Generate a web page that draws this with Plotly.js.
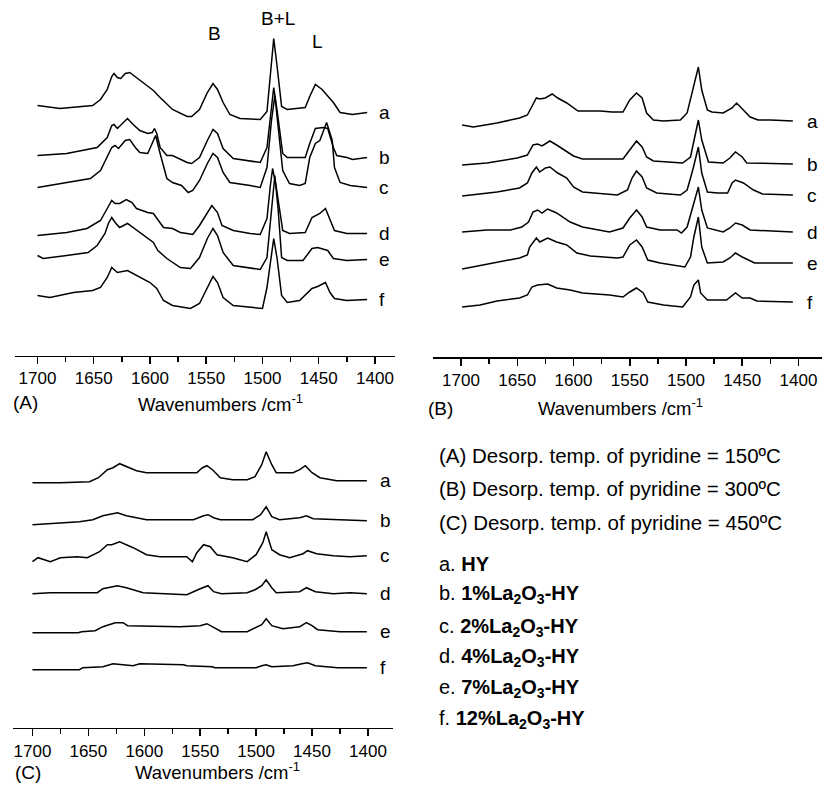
<!DOCTYPE html>
<html><head><meta charset="utf-8">
<script src="https://cdn.plot.ly/plotly-3.0.1.min.js"></script>
<style>html,body{margin:0;padding:0;background:#fff}</style>
</head><body><div id="chart" style="width:822px;height:785px"></div>
<script>
// ---------- categories / labels ----------
const sampleLetters = ['a','b','c','d','e','f'];
const sampleNames = ['HY','1%La<sub>2</sub>O<sub>3</sub>-HY','2%La<sub>2</sub>O<sub>3</sub>-HY','4%La<sub>2</sub>O<sub>3</sub>-HY','7%La<sub>2</sub>O<sub>3</sub>-HY','12%La<sub>2</sub>O<sub>3</sub>-HY'];
const panelIds = ['A','B','C'];
const desorpTemps = [150, 300, 450];
const peakLabels = ['B','B+L','L'];
const peakWavenumbers = [1543, 1486, 1451];
const peakHeights = [322, 337, 314];
const tickValues = [1700,1650,1600,1550,1500,1450,1400];

// ---------- Panel A (150 °C), offset spectra, a.u. ----------
const Aa_wn = [1700,1680,1651,1644,1638,1634,1632,1629,1626,1622,1618,1612,1602,1597,1591,1580,1567,1563,1556,1549,1544,1540,1535,1529,1520,1502,1496,1492,1490,1487,1483,1478,1462,1458,1453,1447,1442,1437,1431,1420,1407];
const Aa = [250,247,250,256,266,279,282,278,277,282,283,278,269,265,258,246,239,239,246,263,272,266,253,241,237,236,244,289,317,289,249,246,248,259,271,266,259,253,243,241,243];
const Ab_wn = [1700,1674,1647,1638,1634,1632,1629,1624,1620,1615,1609,1602,1598,1596,1594,1591,1585,1580,1567,1563,1556,1549,1544,1540,1535,1526,1502,1496,1492,1490,1487,1482,1478,1462,1458,1453,1446,1442,1437,1434,1425,1420,1407];
const Ab = [200,202,208,218,230,231,227,233,237,231,225,222,223,227,222,208,200,200,193,192,198,215,226,222,207,197,193,208,248,268,245,202,198,198,212,227,228,227,208,200,198,196,198];
const Ac_wn = [1700,1674,1653,1644,1638,1634,1631,1628,1622,1618,1613,1609,1602,1598,1595,1591,1585,1580,1572,1566,1562,1556,1549,1544,1540,1535,1529,1511,1502,1496,1492,1489,1486,1482,1476,1467,1462,1458,1453,1449,1443,1438,1436,1431,1422,1407];
const Ac = [168,173,177,185,198,208,210,207,215,216,208,203,202,212,220,202,177,173,170,163,165,175,192,202,198,183,173,170,168,188,235,260,230,185,172,170,172,198,212,215,233,215,188,173,170,168];
const Ad_wn = [1700,1674,1656,1644,1638,1634,1631,1627,1621,1616,1612,1602,1597,1594,1588,1580,1573,1567,1562,1556,1549,1545,1540,1536,1526,1511,1502,1496,1493,1491,1488,1482,1476,1462,1456,1449,1444,1440,1436,1425,1407];
const Ad = [120,123,127,135,147,155,152,152,156,153,147,143,142,137,128,127,123,122,121,130,143,150,143,130,125,122,121,137,170,187,170,125,122,123,138,142,147,135,125,122,122];
const Ae_wn = [1700,1695,1674,1655,1647,1640,1637,1634,1631,1627,1620,1615,1606,1597,1593,1585,1573,1564,1556,1549,1544,1540,1535,1526,1502,1496,1492,1489,1486,1483,1478,1464,1456,1451,1442,1437,1425,1407];
const Ae = [100,97,100,103,110,122,132,138,133,128,132,128,120,113,105,97,88,87,98,117,127,120,103,90,86,98,145,180,145,98,95,95,107,108,105,97,95,96];
const Af_wn = [1700,1689,1668,1651,1644,1638,1634,1629,1620,1609,1600,1594,1588,1580,1564,1556,1549,1544,1540,1535,1526,1500,1496,1492,1490,1487,1483,1478,1467,1456,1451,1444,1440,1436,1425,1407];
const Af = [60,58,63,65,68,78,88,83,85,78,73,67,55,50,47,52,68,79,73,58,50,47,68,102,117,97,60,53,55,67,69,73,63,57,55,56];

// ---------- Panel B (300 °C) ----------
const Ba_wn = [1699,1689,1668,1648,1641,1637,1633,1630,1625,1619,1614,1606,1600,1596,1576,1566,1556,1550,1544,1539,1535,1529,1520,1505,1499,1494,1489,1486,1481,1477,1467,1459,1455,1449,1443,1436,1425,1405];
const Ba = [232,230,234,239,242,250,259,258,259,263,259,254,249,246,246,245,245,257,264,259,244,237,236,237,244,267,290,267,247,245,244,249,254,247,240,237,237,236];
const Bb_wn = [1699,1677,1650,1641,1636,1632,1628,1621,1615,1600,1592,1556,1550,1544,1539,1535,1529,1503,1496,1492,1489,1486,1480,1467,1461,1456,1450,1446,1405];
const Bb = [192,194,199,202,212,213,211,216,212,201,198,198,207,216,210,200,196,194,200,220,237,217,195,194,199,205,200,194,193];
const Bc_wn = [1699,1668,1648,1641,1637,1633,1630,1625,1621,1614,1606,1600,1592,1561,1552,1548,1544,1539,1535,1526,1505,1499,1494,1489,1486,1481,1472,1463,1459,1456,1449,1440,1432,1405];
const Bc = [161,165,169,174,184,190,185,189,190,184,179,170,165,162,167,179,186,180,169,164,162,167,187,210,184,165,164,164,174,177,174,167,163,162];
const Bd_wn = [1699,1677,1656,1646,1640,1636,1632,1628,1623,1615,1603,1592,1568,1556,1550,1544,1539,1535,1523,1508,1504,1499,1494,1489,1486,1481,1467,1461,1456,1450,1443,1405];
const Bd = [125,127,127,130,135,145,147,144,148,144,135,130,125,129,139,147,140,130,127,127,124,130,150,170,147,129,125,129,134,132,127,125];
const Be_wn = [1699,1668,1648,1641,1639,1633,1630,1623,1615,1606,1597,1585,1561,1556,1550,1544,1539,1534,1523,1501,1496,1493,1489,1486,1481,1467,1461,1456,1450,1439,1405];
const Be = [88,95,99,102,110,119,115,119,115,112,104,101,99,100,112,117,110,97,94,90,100,120,140,110,94,95,99,104,100,94,94];
const Bf_wn = [1699,1683,1668,1648,1641,1637,1632,1623,1615,1603,1592,1568,1556,1550,1544,1538,1534,1520,1503,1496,1493,1489,1487,1481,1464,1459,1456,1450,1443,1437,1405];
const Bf = [50,52,56,59,62,70,72,73,69,67,64,62,60,65,69,64,55,52,50,60,72,77,64,57,57,62,64,59,59,56,55];

// ---------- Panel C (450 °C) ----------
const Ca_wn = [1700,1675,1649,1641,1633,1628,1622,1616,1607,1598,1580,1568,1553,1548,1544,1539,1532,1521,1508,1501,1495,1491,1486,1482,1467,1461,1456,1450,1443,1428,1401];
const Ca = [245,245,246,250,258,260,264,261,257,255,255,255,255,260,262,258,250,248,248,251,263,276,263,255,255,258,262,255,250,247,247];
const Cb_wn = [1700,1684,1669,1658,1646,1637,1624,1616,1598,1556,1547,1543,1538,1532,1503,1496,1491,1486,1479,1461,1455,1449,1401];
const Cb = [203,204,205,206,208,212,215,212,208,208,212,213,210,208,208,213,221,211,208,210,212,209,207];
const Cc_wn = [1700,1695,1684,1675,1660,1651,1640,1633,1629,1622,1610,1598,1586,1562,1557,1553,1547,1541,1535,1521,1508,1500,1494,1491,1486,1479,1470,1458,1454,1446,1431,1416,1401];
const Cc = [166,170,166,170,171,170,176,183,183,186,180,173,171,171,166,175,183,181,173,170,166,173,185,196,178,173,170,174,177,174,172,171,172];
const Cd_wn = [1700,1684,1642,1637,1624,1616,1601,1562,1550,1543,1538,1531,1508,1501,1495,1491,1486,1482,1461,1455,1447,1431,1416,1401];
const Cd = [134,135,135,139,142,140,135,133,139,142,136,134,135,138,142,148,140,135,136,140,136,134,135,134];
const Ce_wn = [1700,1659,1656,1644,1637,1626,1619,1615,1568,1550,1544,1539,1531,1508,1500,1495,1491,1486,1476,1467,1461,1455,1450,1445,1425,1401];
const Ce = [95,95,96,97,101,105,105,102,101,102,104,101,96,96,100,103,109,102,99,100,101,105,102,98,96,96];
const Cf_wn = [1700,1658,1655,1637,1628,1615,1610,1604,1565,1562,1539,1537,1500,1495,1491,1486,1467,1459,1454,1447,1427,1401];
const Cf = [58,58,60,61,64,63,62,64,63,62,61,60,60,62,63,61,62,64,65,62,60,60];

// ---------- build ----------
const FONT = 'Liberation Sans, Arial, Helvetica, sans-serif';
const W = 822, H = 785;
const panels = [
  {wn:[Aa_wn,Ab_wn,Ac_wn,Ad_wn,Ae_wn,Af_wn], val:[Aa,Ab,Ac,Ad,Ae,Af], xa:'x', ya:'y', labelX:1398},
  {wn:[Ba_wn,Bb_wn,Bc_wn,Bd_wn,Be_wn,Bf_wn], val:[Ba,Bb,Bc,Bd,Be,Bf], xa:'x2', ya:'y2', labelX:1394},
  {wn:[Ca_wn,Cb_wn,Cc_wn,Cd_wn,Ce_wn,Cf_wn], val:[Ca,Cb,Cc,Cd,Ce,Cf], xa:'x3', ya:'y3', labelX:1391}
];
const traces = [];
const annotations = [];
panels.forEach(p => {
  for (let i = 0; i < sampleLetters.length; i++) {
    traces.push({x:p.wn[i], y:p.val[i], xaxis:p.xa, yaxis:p.ya, type:'scatter', mode:'lines',
      line:{color:'#000', width:1.5}, hoverinfo:'skip', showlegend:false, name:sampleLetters[i]});
    const last = p.val[i][p.val[i].length-1];
    annotations.push({x:p.labelX, y:last, xref:p.xa, yref:p.ya, text:sampleLetters[i], showarrow:false,
      xanchor:'left', yanchor:'middle', font:{family:FONT, size:19, color:'#000'}});
  }
});
peakLabels.forEach((t,i) => annotations.push({x:peakWavenumbers[i], y:peakHeights[i], xref:'x', yref:'y', text:t,
  showarrow:false, xanchor:'center', yanchor:'middle', font:{family:FONT, size:19, color:'#000'}}));

function px(x){return x/W;} function py(y){return 1-y/H;}
// axis titles + panel ids
const panelTitlePos = [[25,402,220,403],[441,408,620,407],[28,772,217,771]];
panelIds.forEach((id,i) => {
  const pp = panelTitlePos[i];
  annotations.push({x:px(pp[0]), y:py(pp[1]), xref:'paper', yref:'paper', text:'('+id+')', showarrow:false,
    xanchor:'center', yanchor:'middle', font:{family:FONT, size:19, color:'#000'}});
  annotations.push({x:px(pp[2]), y:py(pp[3]), xref:'paper', yref:'paper', text:'Wavenumbers /cm<sup>-1</sup>', showarrow:false,
    xanchor:'center', yanchor:'middle', font:{family:FONT, size:18.5, color:'#000'}});
});
// right-hand text block
const infoY = [455,488,522];
panelIds.forEach((id,i) => annotations.push({x:px(437), y:py(infoY[i]), xref:'paper', yref:'paper',
  text:'('+id+') Desorp. temp. of pyridine = '+desorpTemps[i]+'ºC', showarrow:false, xanchor:'left', yanchor:'middle',
  font:{family:FONT, size:20.5, color:'#000'}}));
const sampY = [564,594,627,657,688,719];
sampleLetters.forEach((l,i) => annotations.push({x:px(437), y:py(sampY[i]), xref:'paper', yref:'paper',
  text:l+'. <b>'+sampleNames[i]+'</b>', showarrow:false, xanchor:'left', yanchor:'middle',
  font:{family:FONT, size:20, color:'#000'}}));

function xAxis(domain, range, anchor){
  return {domain:domain, range:range, anchor:anchor, showline:true, linecolor:'#000', linewidth:1.5,
    ticks:'outside', ticklen:7, tickwidth:1.5, tickcolor:'#000', tickmode:'array', tickvals:tickValues,
    ticktext:tickValues.map(String), showgrid:false, zeroline:false, fixedrange:true,
    tickfont:{family:FONT, size:17, color:'#000'},
    minor:{ticks:'outside', ticklen:5, tickwidth:1.5, tickcolor:'#000', tickmode:'array',
      tickvals:[1725,1675,1625,1575,1525,1475,1425], showgrid:false}};
}
function yAxis(domain, range, anchor){
  return {domain:domain, range:range, anchor:anchor, visible:false, fixedrange:true, showgrid:false, zeroline:false};
}
const layout = {
  width:W, height:H, margin:{l:0,r:0,t:0,b:0}, paper_bgcolor:'#fff', plot_bgcolor:'rgba(0,0,0,0)',
  showlegend:false, font:{family:FONT, color:'#000'},
  xaxis: xAxis([px(15),px(395)], [1720,1382.2], 'y'),
  yaxis: yAxis([py(355.5),py(5)], [0,350.5], 'x'),
  xaxis2: xAxis([px(433),1], [1724.9,1379.1], 'y2'),
  yaxis2: yAxis([py(357),py(5)], [0,352], 'x2'),
  xaxis3: xAxis([px(13),px(393)], [1717.4,1377.6], 'y3'),
  yaxis3: yAxis([py(727.7),py(430)], [0,297.7], 'x3'),
  annotations: annotations
};
Plotly.newPlot('chart', traces, layout, {staticPlot:true, displayModeBar:false});
</script></body></html>
